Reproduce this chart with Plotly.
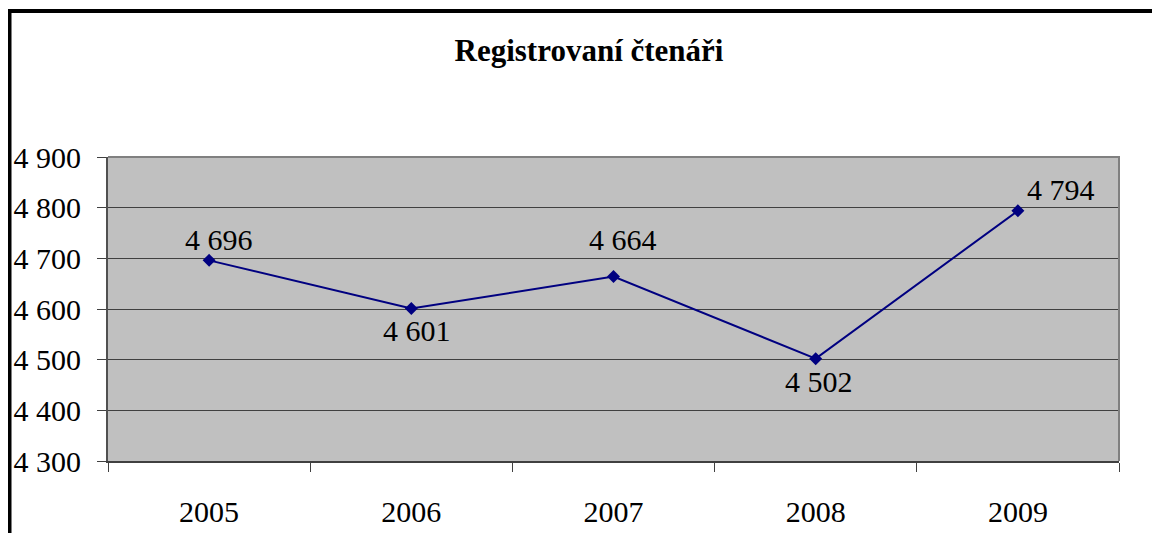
import plotly.graph_objects as go

years = [2005, 2006, 2007, 2008, 2009]
readers = [4696, 4601, 4664, 4502, 4794]
y_ticks = [4300, 4400, 4500, 4600, 4700, 4800, 4900]
title_text = "Registrovaní čtenáři"

# label offsets (pixels) relative to each point
label_dx = [10, 6, 9, 3, 43]
label_dy = [-21, 22, -37, 23, -21]

FONT = "'Liberation Serif', 'Times New Roman', serif"
NAVY = "#000080"

# page has an 8px body margin; target plot area in page pixels
OFF = 8
W, H = 1160 - OFF, 533 - OFF
L, R, T, B = 108, 1119, 157, 461

fig = go.Figure()
fig.add_trace(go.Scatter(
    x=years, y=readers, mode="lines+markers",
    line=dict(color=NAVY, width=2),
    marker=dict(symbol="diamond", size=10, color=NAVY),
    hoverinfo="skip", showlegend=False,
))

for x, v, dx, dy in zip(years, readers, label_dx, label_dy):
    fig.add_annotation(
        x=x, y=v, text=f"{v:,}".replace(",", " "), showarrow=False,
        xshift=dx, yshift=-dy, xanchor="center", yanchor="middle",
        font=dict(family=FONT, size=30, color="black"),
    )

def px(x): return (x - L) / (R - L)
def py(y): return (B - y) / (B - T)

# outer frame (left and top edges)
fig.add_shape(type="path", xref="paper", yref="paper",
              path=f"M {px(9.5)} {py(560)} L {px(9.5)} {py(11)} L {px(1200)} {py(11)}",
              line=dict(color="black", width=4))

fig.update_layout(
    width=W, height=H,
    margin=dict(l=L - OFF, r=W - (R - OFF), t=T - OFF, b=H - (B - OFF), autoexpand=False),
    paper_bgcolor="white", plot_bgcolor="#C0C0C0",
    separators=", ",
    title=dict(text=f"<b>{title_text}</b>", x=(589 - OFF) / W, xanchor="center",
               y=1 - (50 - OFF) / H, yanchor="middle",
               font=dict(family=FONT, size=31, color="black")),
    font=dict(family=FONT, size=30, color="black"),
)
fig.update_yaxes(
    range=[4300, 4900], tickvals=y_ticks, tickformat=",d",
    ticks="outside", ticklen=9, tickcolor="#404040", tickwidth=1,
    showgrid=True, gridcolor="#404040", gridwidth=1,
    showline=True, linecolor="#505050", linewidth=2,
    zeroline=False, ticklabelstandoff=10, automargin=False,
    tickfont=dict(family=FONT, size=30, color="black"),
)
fig.update_xaxes(
    range=[years[0] - 0.5, years[-1] + 0.5], tickvals=years,
    ticks="", showgrid=False, zeroline=False,
    showline=True, linecolor="#404040", linewidth=2,
    ticklabelstandoff=23, automargin=False,
    minor=dict(tickvals=[y - 0.5 for y in years] + [years[-1] + 0.5],
               ticks="outside", ticklen=9, tickcolor="#404040", tickwidth=1,
               showgrid=False),
    tickfont=dict(family=FONT, size=30, color="black"),
)
# gray border on top and right
fig.add_shape(type="path", xref="paper", yref="paper",
              path="M 0 1 L 1 1 L 1 0", line=dict(color="#808080", width=2))

fig.write_html("out.html")
